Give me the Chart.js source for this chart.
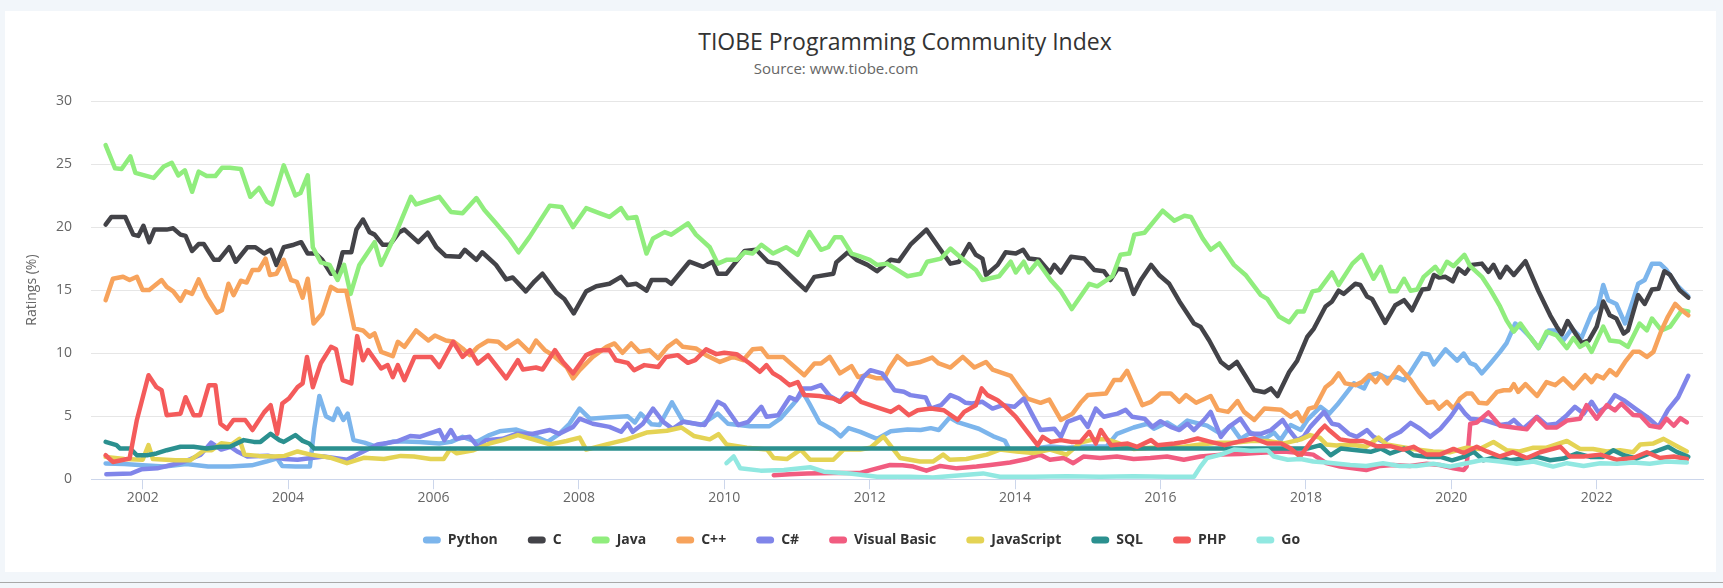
<!DOCTYPE html>
<html>
<head>
<meta charset="utf-8">
<script src="https://cdn.jsdelivr.net/npm/chart.js@4.4.0/dist/chart.umd.min.js"></script>
<style>
html,body{margin:0;padding:0;width:1723px;height:588px;overflow:hidden;background:#f2f6fa;}
#card{position:absolute;left:5px;top:11px;width:1711px;height:561px;background:#ffffff;}
#rule{position:absolute;left:0;top:582px;width:1723px;height:1px;background:#a8a8a8;}
.ttl{position:absolute;white-space:nowrap;transform:translateX(-50%);font-family:'Open Sans',sans-serif;}
#title{left:905px;top:30px;font-size:23px;line-height:23px;color:#333333;}
#subtitle{left:836px;top:61px;font-size:15px;line-height:15px;color:#666666;}
#chart{position:absolute;left:0;top:0;}
</style>
</head>
<body>
<div id="card"></div>
<div id="rule"></div>
<div id="title" class="ttl">TIOBE Programming Community Index</div>
<div id="subtitle" class="ttl">Source: www.tiobe.com</div>
<canvas id="chart" width="1723" height="588"></canvas>
<script>
// ---------------- DATA (year, rating %) ----------------
const seriesNames = ['Python','C','Java','C++','C#','Visual Basic','JavaScript','SQL','PHP','Go'];
const yearTicks = [2002,2004,2006,2008,2010,2012,2014,2016,2018,2020,2022];
const ratingTicks = [0,5,10,15,20,25,30];

const python = [[2001.49,1.25],[2001.75,1.2],[2002.0,1.1],[2002.3,1.0],[2002.6,1.2],[2002.9,1.0],[2003.2,1.0],[2003.5,1.1],[2003.7,1.4],[2003.85,1.65],[2003.92,1.05],[2004.1,1.0],[2004.3,1.0],[2004.36,4.0],[2004.43,6.6],[2004.52,5.0],[2004.62,4.7],[2004.68,5.6],[2004.76,4.7],[2004.82,5.2],[2004.9,3.1],[2005.05,2.9],[2005.2,2.6],[2005.45,3.0],[2005.6,3.0],[2005.81,2.96],[2006.08,2.83],[2006.24,2.96],[2006.4,3.36],[2006.59,2.96],[2006.77,3.5],[2006.91,3.8],[2007.14,3.94],[2007.32,3.6],[2007.57,2.96],[2007.73,3.6],[2007.87,4.4],[2008.01,5.6],[2008.15,4.8],[2008.38,4.9],[2008.67,5.0],[2008.77,4.5],[2008.85,5.2],[2009.0,4.35],[2009.11,4.3],[2009.28,6.1],[2009.43,4.6],[2009.68,4.3],[2009.91,5.2],[2010.05,4.4],[2010.35,4.2],[2010.62,4.2],[2010.77,4.8],[2010.94,5.9],[2011.08,6.9],[2011.17,6.0],[2011.31,4.5],[2011.5,3.9],[2011.6,3.4],[2011.71,4.05],[2011.87,3.75],[2012.1,3.2],[2012.29,3.8],[2012.52,3.95],[2012.7,3.9],[2012.84,4.05],[2012.95,3.9],[2013.1,4.9],[2013.22,4.5],[2013.5,4.0],[2013.7,3.4],[2013.86,3.05],[2013.92,2.35],[2014.16,2.35],[2014.48,2.6],[2014.71,2.5],[2014.99,2.6],[2015.26,2.6],[2015.4,3.6],[2015.63,4.1],[2015.82,4.4],[2015.91,4.0],[2016.09,4.5],[2016.23,4.0],[2016.37,4.65],[2016.64,4.25],[2016.83,3.6],[2016.97,4.25],[2017.1,3.2],[2017.24,3.7],[2017.43,3.2],[2017.56,3.7],[2017.65,3.1],[2017.79,4.3],[2017.93,3.9],[2018.02,4.7],[2018.2,5.74],[2018.32,5.2],[2018.43,5.9],[2018.66,7.6],[2018.8,7.2],[2018.89,8.25],[2018.98,8.4],[2019.12,8.0],[2019.25,8.1],[2019.35,7.85],[2019.44,8.5],[2019.6,9.97],[2019.69,9.9],[2019.76,9.1],[2019.92,10.3],[2020.08,9.4],[2020.17,9.97],[2020.26,9.2],[2020.33,9.05],[2020.42,8.4],[2020.54,9.2],[2020.67,10.1],[2020.76,10.8],[2020.88,12.35],[2020.97,11.95],[2021.08,11.3],[2021.2,10.4],[2021.34,11.8],[2021.45,11.8],[2021.54,11.0],[2021.66,11.95],[2021.79,11.2],[2021.93,13.15],[2022.02,13.7],[2022.09,15.4],[2022.16,14.2],[2022.27,13.9],[2022.39,12.35],[2022.5,14.2],[2022.57,15.5],[2022.66,15.8],[2022.76,17.1],[2022.87,17.1],[2022.96,16.6],[2023.1,15.4],[2023.26,14.5]];

const c = [[2001.49,20.2],[2001.57,20.8],[2001.76,20.8],[2001.87,19.4],[2001.94,19.3],[2002.01,20.1],[2002.09,18.8],[2002.16,19.8],[2002.33,19.8],[2002.42,19.9],[2002.52,19.4],[2002.59,19.3],[2002.68,18.1],[2002.77,18.65],[2002.84,18.65],[2002.98,17.4],[2003.05,17.4],[2003.19,18.4],[2003.28,17.25],[2003.44,18.4],[2003.55,18.4],[2003.67,17.9],[2003.76,18.2],[2003.84,17.0],[2003.94,18.4],[2004.08,18.6],[2004.18,18.8],[2004.27,17.9],[2004.38,17.9],[2004.47,17.4],[2004.59,16.3],[2004.68,16.4],[2004.75,18.0],[2004.87,18.0],[2004.94,19.8],[2005.03,20.6],[2005.12,19.6],[2005.19,19.4],[2005.3,18.6],[2005.4,18.6],[2005.53,19.6],[2005.6,19.8],[2005.79,18.8],[2005.92,19.55],[2006.04,18.4],[2006.17,17.7],[2006.36,17.65],[2006.43,18.2],[2006.59,17.4],[2006.67,18.0],[2006.86,17.0],[2007.0,15.85],[2007.09,16.0],[2007.27,14.9],[2007.39,15.7],[2007.5,16.3],[2007.69,14.8],[2007.8,14.3],[2007.93,13.15],[2008.1,14.9],[2008.24,15.3],[2008.42,15.5],[2008.58,16.05],[2008.67,15.4],[2008.79,15.5],[2008.93,14.95],[2009.0,15.8],[2009.2,15.8],[2009.27,15.5],[2009.52,17.25],[2009.71,16.85],[2009.84,17.25],[2009.91,16.3],[2010.03,16.3],[2010.14,17.1],[2010.28,18.1],[2010.44,18.2],[2010.6,17.25],[2010.74,17.1],[2010.99,15.7],[2011.12,15.0],[2011.24,16.05],[2011.5,16.3],[2011.54,17.2],[2011.7,18.0],[2011.82,17.4],[2011.97,17.0],[2012.1,16.5],[2012.29,17.4],[2012.4,17.3],[2012.56,18.6],[2012.78,19.8],[2012.95,18.4],[2013.11,17.1],[2013.23,17.25],[2013.37,18.65],[2013.46,17.8],[2013.55,17.5],[2013.6,16.2],[2013.76,17.0],[2013.87,18.0],[2014.01,17.9],[2014.11,18.2],[2014.19,17.5],[2014.33,17.4],[2014.48,16.4],[2014.54,17.0],[2014.63,16.4],[2014.77,17.65],[2014.95,17.5],[2015.09,16.6],[2015.22,16.5],[2015.31,15.8],[2015.41,16.7],[2015.52,16.6],[2015.63,14.7],[2015.73,15.8],[2015.87,17.0],[2015.98,16.2],[2016.12,15.5],[2016.26,14.1],[2016.46,12.35],[2016.55,12.1],[2016.67,11.0],[2016.83,9.3],[2016.94,8.8],[2017.05,9.3],[2017.29,7.05],[2017.43,6.9],[2017.52,7.2],[2017.61,6.6],[2017.77,8.5],[2017.88,9.4],[2018.02,11.3],[2018.11,11.95],[2018.27,13.7],[2018.36,14.1],[2018.45,14.95],[2018.52,14.7],[2018.68,15.5],[2018.75,15.4],[2018.84,14.5],[2018.91,14.3],[2019.09,12.4],[2019.23,13.8],[2019.35,14.2],[2019.46,13.4],[2019.6,15.05],[2019.69,15.1],[2019.76,16.2],[2019.83,16.0],[2019.92,16.05],[2020.02,15.7],[2020.1,16.7],[2020.19,16.3],[2020.28,17.0],[2020.42,17.1],[2020.51,16.45],[2020.58,17.0],[2020.67,16.0],[2020.76,16.85],[2020.86,16.2],[2021.02,17.3],[2021.2,14.9],[2021.36,13.0],[2021.45,12.1],[2021.52,11.5],[2021.6,12.55],[2021.79,10.8],[2021.89,11.0],[2022.0,12.1],[2022.09,14.1],[2022.18,13.0],[2022.27,12.75],[2022.37,11.55],[2022.43,11.8],[2022.57,14.6],[2022.66,13.9],[2022.76,15.05],[2022.85,15.1],[2022.93,16.5],[2023.01,16.2],[2023.14,15.0],[2023.26,14.4]];

const java = [[2001.49,26.5],[2001.62,24.66],[2001.71,24.6],[2001.83,25.6],[2001.9,24.3],[2002.15,23.9],[2002.29,24.8],[2002.4,25.1],[2002.49,24.1],[2002.58,24.5],[2002.68,22.8],[2002.77,24.4],[2002.88,24.05],[2003.0,24.05],[2003.09,24.7],[2003.2,24.7],[2003.35,24.6],[2003.48,22.4],[2003.6,23.1],[2003.71,22.0],[2003.78,21.8],[2003.94,24.9],[2004.1,22.5],[2004.17,22.7],[2004.27,24.1],[2004.34,18.4],[2004.45,17.2],[2004.57,17.0],[2004.68,15.8],[2004.77,17.0],[2004.86,14.7],[2004.98,17.0],[2005.19,18.8],[2005.28,17.0],[2005.46,19.2],[2005.69,22.4],[2005.76,21.8],[2006.08,22.4],[2006.24,21.2],[2006.4,21.1],[2006.59,22.3],[2006.7,21.35],[2006.86,20.3],[2007.05,19.0],[2007.17,18.0],[2007.32,19.2],[2007.6,21.7],[2007.76,21.6],[2007.92,20.0],[2008.1,21.5],[2008.28,21.1],[2008.42,20.8],[2008.58,21.5],[2008.67,20.7],[2008.79,20.8],[2008.93,17.9],[2009.02,19.1],[2009.18,19.6],[2009.27,19.4],[2009.5,20.3],[2009.61,19.4],[2009.8,18.4],[2009.91,17.1],[2010.03,17.4],[2010.17,17.4],[2010.28,18.0],[2010.39,17.9],[2010.51,18.6],[2010.67,17.9],[2010.85,18.4],[2011.01,17.8],[2011.17,19.6],[2011.33,18.2],[2011.43,18.4],[2011.52,19.2],[2011.61,19.2],[2011.75,17.9],[2011.86,17.7],[2012.0,17.4],[2012.1,17.0],[2012.24,17.1],[2012.52,16.1],[2012.7,16.3],[2012.79,17.25],[2012.98,17.5],[2013.11,18.3],[2013.32,17.25],[2013.46,16.6],[2013.55,15.8],[2013.78,16.1],[2013.94,17.25],[2014.01,16.4],[2014.12,17.25],[2014.19,16.4],[2014.31,17.25],[2014.49,15.8],[2014.63,14.9],[2014.78,13.5],[2015.02,15.5],[2015.13,15.3],[2015.34,16.1],[2015.45,17.8],[2015.57,17.9],[2015.64,19.4],[2015.78,19.55],[2016.03,21.3],[2016.19,20.5],[2016.33,20.9],[2016.42,20.8],[2016.58,19.1],[2016.69,18.2],[2016.81,18.7],[2017.01,17.0],[2017.17,16.2],[2017.38,14.6],[2017.47,14.3],[2017.63,12.9],[2017.77,12.45],[2017.88,13.3],[2017.97,13.3],[2018.09,14.9],[2018.18,15.0],[2018.36,16.4],[2018.45,15.4],[2018.64,17.1],[2018.77,17.8],[2018.93,15.9],[2019.03,16.85],[2019.16,14.9],[2019.25,14.9],[2019.35,15.9],[2019.44,14.95],[2019.53,15.05],[2019.62,16.05],[2019.78,16.85],[2019.85,16.3],[2019.94,17.25],[2020.03,16.9],[2020.18,17.8],[2020.26,16.9],[2020.42,16.05],[2020.54,15.0],[2020.67,13.7],[2020.76,12.6],[2020.86,11.7],[2020.95,12.35],[2021.08,11.3],[2021.2,10.4],[2021.31,11.7],[2021.45,11.4],[2021.59,10.4],[2021.68,11.2],[2021.77,10.5],[2021.86,10.8],[2021.93,10.1],[2022.09,12.1],[2022.18,11.0],[2022.32,10.9],[2022.43,10.5],[2022.59,12.35],[2022.69,11.8],[2022.76,12.75],[2022.89,11.8],[2023.01,12.1],[2023.17,13.4],[2023.26,13.3]];

const cpp = [[2001.49,14.2],[2001.59,15.9],[2001.73,16.06],[2001.82,15.8],[2001.92,16.06],[2002.0,15.0],[2002.09,15.0],[2002.26,15.8],[2002.33,15.26],[2002.42,14.9],[2002.52,14.15],[2002.59,14.9],[2002.68,14.7],[2002.77,15.85],[2002.88,14.47],[2003.02,13.2],[2003.09,13.4],[2003.18,15.5],[2003.25,14.6],[2003.35,15.74],[2003.43,15.6],[2003.51,16.6],[2003.6,16.6],[2003.69,17.5],[2003.75,16.2],[2003.84,16.3],[2003.94,17.4],[2004.04,15.8],[2004.12,15.66],[2004.2,14.4],[2004.27,15.9],[2004.35,12.35],[2004.47,13.15],[2004.59,15.26],[2004.68,14.95],[2004.8,14.95],[2004.91,11.96],[2005.03,11.8],[2005.12,11.3],[2005.19,11.56],[2005.28,10.1],[2005.44,9.76],[2005.51,10.9],[2005.6,10.5],[2005.76,11.8],[2005.93,11.0],[2006.02,11.4],[2006.17,11.0],[2006.28,10.9],[2006.4,10.37],[2006.5,9.84],[2006.61,10.5],[2006.75,10.98],[2006.89,10.9],[2007.0,10.37],[2007.16,11.0],[2007.32,10.1],[2007.41,11.0],[2007.53,10.24],[2007.64,9.84],[2007.83,8.9],[2007.92,8.0],[2008.01,8.65],[2008.19,9.7],[2008.38,10.5],[2008.49,10.77],[2008.6,10.03],[2008.72,10.77],[2008.83,10.1],[2008.97,10.24],[2009.09,9.58],[2009.22,10.5],[2009.34,11.0],[2009.43,10.5],[2009.61,10.37],[2009.75,9.84],[2009.94,9.3],[2010.12,9.7],[2010.26,9.44],[2010.39,10.3],[2010.51,10.37],[2010.6,9.7],[2010.81,9.7],[2010.94,9.05],[2011.1,8.25],[2011.24,9.18],[2011.33,9.18],[2011.45,9.7],[2011.59,8.4],[2011.75,8.97],[2011.84,8.1],[2011.95,8.25],[2012.1,8.0],[2012.2,8.0],[2012.27,8.8],[2012.38,9.76],[2012.52,9.1],[2012.7,9.3],[2012.86,9.65],[2012.95,9.18],[2013.11,8.86],[2013.28,9.7],[2013.44,8.86],[2013.6,9.3],[2013.69,8.7],[2013.94,8.2],[2014.08,7.06],[2014.17,6.4],[2014.35,6.06],[2014.47,6.32],[2014.63,4.7],[2014.79,5.2],[2014.9,6.06],[2015.0,6.67],[2015.25,6.8],[2015.36,7.86],[2015.45,7.86],[2015.54,8.6],[2015.61,7.7],[2015.75,5.87],[2015.87,6.14],[2016.0,6.8],[2016.14,6.8],[2016.26,6.14],[2016.35,6.67],[2016.49,6.06],[2016.69,6.6],[2016.79,5.5],[2016.93,5.34],[2017.06,6.2],[2017.15,5.34],[2017.29,4.7],[2017.43,5.6],[2017.66,5.5],[2017.79,4.95],[2017.88,5.3],[2017.95,4.6],[2018.04,5.6],[2018.13,5.74],[2018.27,7.3],[2018.36,7.7],[2018.45,8.4],[2018.54,7.6],[2018.68,7.46],[2018.77,7.7],[2018.87,8.25],[2018.96,7.7],[2019.03,8.25],[2019.12,7.6],[2019.28,8.9],[2019.44,7.86],[2019.55,6.93],[2019.67,6.06],[2019.76,6.14],[2019.83,5.6],[2019.94,6.14],[2020.03,5.6],[2020.12,6.4],[2020.21,6.8],[2020.28,6.8],[2020.38,6.06],[2020.49,6.0],[2020.63,6.93],[2020.72,7.06],[2020.81,7.06],[2020.86,7.54],[2020.92,6.93],[2021.02,7.54],[2021.18,6.6],[2021.31,7.7],[2021.43,7.46],[2021.54,8.0],[2021.68,7.2],[2021.84,8.25],[2021.93,7.7],[2022.0,8.25],[2022.09,8.0],[2022.18,8.65],[2022.27,8.25],[2022.39,9.3],[2022.5,10.1],[2022.59,10.1],[2022.69,9.7],[2022.78,10.1],[2022.89,11.8],[2022.98,12.9],[2023.08,13.9],[2023.17,13.4],[2023.26,13.0]];

const csharp = [[2001.5,0.4],[2001.84,0.45],[2001.98,0.78],[2002.2,0.86],[2002.39,1.13],[2002.53,1.32],[2002.66,1.6],[2002.8,1.95],[2002.94,2.9],[2003.08,2.35],[2003.21,2.57],[2003.3,2.2],[2003.44,1.8],[2003.72,1.86],[2003.95,1.6],[2004.13,1.54],[2004.49,1.8],[2004.81,1.54],[2004.95,1.95],[2005.23,2.76],[2005.5,3.0],[2005.68,3.43],[2005.81,3.36],[2006.08,3.9],[2006.15,3.1],[2006.24,3.9],[2006.31,3.2],[2006.5,3.36],[2006.61,2.57],[2006.72,3.1],[2006.95,3.2],[2007.14,3.6],[2007.37,3.6],[2007.6,3.9],[2007.73,3.6],[2007.92,4.15],[2008.01,4.8],[2008.19,4.4],[2008.42,4.15],[2008.58,3.76],[2008.67,4.4],[2008.74,3.76],[2008.88,4.4],[2009.02,5.6],[2009.16,4.55],[2009.29,4.0],[2009.43,4.55],[2009.61,4.4],[2009.73,4.3],[2009.91,6.14],[2010.0,5.87],[2010.19,4.3],[2010.33,4.55],[2010.51,5.74],[2010.58,4.95],[2010.74,5.08],[2010.9,6.5],[2010.99,6.27],[2011.08,7.2],[2011.2,7.2],[2011.33,7.46],[2011.45,6.6],[2011.59,6.14],[2011.68,6.8],[2011.77,6.67],[2011.91,8.1],[2012.01,8.65],[2012.17,8.4],[2012.34,7.06],[2012.47,6.93],[2012.56,6.67],[2012.77,6.48],[2012.84,5.6],[2012.98,5.87],[2013.11,6.67],[2013.23,6.4],[2013.32,6.06],[2013.41,6.0],[2013.55,6.14],[2013.69,5.6],[2013.83,5.87],[2013.99,5.74],[2014.12,6.4],[2014.24,5.08],[2014.35,3.9],[2014.54,4.0],[2014.63,3.36],[2014.72,4.55],[2014.9,4.95],[2015.0,4.15],[2015.11,5.6],[2015.22,4.95],[2015.41,5.2],[2015.52,5.5],[2015.61,4.95],[2015.78,4.8],[2015.89,4.15],[2016.0,4.6],[2016.14,4.15],[2016.26,3.9],[2016.37,4.4],[2016.46,3.9],[2016.6,4.7],[2016.69,5.34],[2016.83,3.36],[2016.94,4.15],[2017.1,4.8],[2017.24,3.6],[2017.38,3.6],[2017.52,3.9],[2017.68,4.7],[2017.77,3.9],[2017.88,3.1],[2017.97,3.36],[2018.06,4.15],[2018.25,5.34],[2018.36,4.4],[2018.45,4.3],[2018.59,3.6],[2018.7,3.36],[2018.84,3.9],[2018.93,3.36],[2019.07,2.96],[2019.16,3.36],[2019.3,3.76],[2019.44,4.47],[2019.57,4.0],[2019.71,3.36],[2019.85,4.0],[2019.99,4.95],[2020.1,5.87],[2020.19,5.2],[2020.26,4.8],[2020.44,4.7],[2020.67,4.3],[2020.79,4.4],[2020.86,4.7],[2020.99,4.0],[2021.18,4.95],[2021.31,4.3],[2021.45,4.4],[2021.59,5.08],[2021.7,5.74],[2021.82,5.2],[2021.93,6.14],[2022.02,5.34],[2022.14,5.74],[2022.25,6.67],[2022.37,6.27],[2022.53,5.6],[2022.69,4.95],[2022.85,4.15],[2022.98,5.5],[2023.12,6.5],[2023.26,8.2]];

const visualBasic = [[2010.68,0.32],[2010.9,0.4],[2011.14,0.46],[2011.5,0.5],[2011.87,0.5],[2012.1,0.86],[2012.28,1.13],[2012.45,1.1],[2012.6,1.0],[2012.78,0.68],[2012.97,1.05],[2013.2,0.86],[2013.47,1.0],[2013.66,1.13],[2013.93,1.32],[2014.16,1.6],[2014.34,1.95],[2014.48,1.54],[2014.67,1.68],[2014.8,1.27],[2014.94,1.8],[2015.17,1.68],[2015.4,1.8],[2015.63,1.6],[2015.86,1.68],[2016.09,1.8],[2016.32,1.54],[2016.55,1.8],[2016.83,1.95],[2017.1,2.0],[2017.38,2.1],[2017.7,2.2],[2017.92,2.08],[2018.1,1.95],[2018.28,1.27],[2018.47,1.0],[2018.65,0.86],[2018.83,0.73],[2019.02,1.05],[2019.2,1.13],[2019.43,1.05],[2019.66,1.22],[2019.84,1.13],[2020.03,0.86],[2020.17,0.73],[2020.21,1.0],[2020.26,4.4],[2020.35,4.5],[2020.51,5.3],[2020.67,4.24],[2020.85,4.1],[2021.04,3.97],[2021.17,4.9],[2021.31,4.1],[2021.45,4.1],[2021.59,4.65],[2021.77,4.8],[2021.86,5.87],[2022.0,4.8],[2022.14,5.87],[2022.25,5.46],[2022.34,6.0],[2022.5,5.1],[2022.6,5.05],[2022.73,4.24],[2022.87,4.1],[2022.96,4.8],[2023.06,4.24],[2023.15,4.84],[2023.24,4.5]];

const javascript = [[2001.49,1.77],[2001.75,1.6],[2002.0,1.55],[2002.08,2.7],[2002.14,1.6],[2002.45,1.5],[2002.65,1.5],[2002.75,1.9],[2002.85,2.3],[2002.95,2.3],[2003.08,2.85],[2003.22,2.75],[2003.33,3.2],[2003.4,1.95],[2003.6,1.85],[2003.8,1.8],[2003.95,1.85],[2004.13,2.2],[2004.31,1.95],[2004.59,1.7],[2004.81,1.27],[2005.04,1.7],[2005.32,1.6],[2005.55,1.85],[2005.73,1.8],[2005.96,1.6],[2006.14,1.6],[2006.23,2.4],[2006.32,2.05],[2006.55,2.3],[2006.78,2.85],[2006.95,3.1],[2007.16,3.5],[2007.37,3.16],[2007.6,2.76],[2007.83,3.03],[2008.01,3.3],[2008.1,2.35],[2008.38,2.76],[2008.66,3.16],[2008.93,3.7],[2009.21,3.84],[2009.41,4.1],[2009.58,3.43],[2009.8,3.16],[2009.92,3.57],[2010.03,2.76],[2010.31,2.5],[2010.59,2.35],[2010.68,1.68],[2010.86,1.6],[2011.05,2.35],[2011.18,1.54],[2011.5,1.54],[2011.64,2.35],[2011.87,2.35],[2012.01,2.5],[2012.19,3.38],[2012.42,1.68],[2012.69,1.4],[2012.87,1.4],[2013.01,1.95],[2013.1,1.54],[2013.33,1.6],[2013.61,1.95],[2013.79,2.35],[2014.02,2.2],[2014.25,2.08],[2014.48,2.35],[2014.71,1.95],[2014.9,2.9],[2015.08,3.16],[2015.26,3.16],[2015.4,2.9],[2015.63,2.4],[2015.86,2.5],[2016.09,2.5],[2016.32,2.57],[2016.55,2.76],[2016.78,2.9],[2017.01,2.9],[2017.24,3.03],[2017.47,3.03],[2017.7,2.84],[2017.93,3.16],[2018.06,3.5],[2018.19,3.3],[2018.28,2.76],[2018.42,2.68],[2018.61,2.76],[2018.83,2.57],[2019.0,3.3],[2019.11,2.76],[2019.29,2.57],[2019.52,2.35],[2019.75,2.2],[2019.98,2.14],[2020.21,2.5],[2020.39,2.4],[2020.58,2.95],[2020.76,2.3],[2020.94,2.2],[2021.13,2.5],[2021.31,2.5],[2021.59,3.03],[2021.77,2.4],[2021.95,2.4],[2022.14,2.2],[2022.32,2.3],[2022.5,2.14],[2022.6,2.76],[2022.78,2.84],[2022.92,3.2],[2023.06,2.76],[2023.24,2.2]];

const sql = [[2001.49,2.96],[2001.64,2.7],[2001.69,2.43],[2001.83,2.43],[2001.92,1.9],[2002.06,1.9],[2002.19,2.04],[2002.33,2.3],[2002.52,2.57],[2002.7,2.57],[2002.88,2.43],[2003.07,2.57],[2003.2,2.57],[2003.39,3.1],[2003.53,2.96],[2003.62,2.96],[2003.76,3.6],[2003.88,3.1],[2003.94,2.96],[2004.1,3.5],[2004.2,3.04],[2004.29,2.83],[2004.36,2.43],[2018.02,2.43],[2018.2,2.7],[2018.34,1.9],[2018.48,2.43],[2018.7,2.3],[2018.89,2.17],[2019.03,2.43],[2019.16,2.04],[2019.35,2.43],[2019.48,1.9],[2019.67,1.77],[2019.85,1.77],[2020.01,1.5],[2020.17,1.77],[2020.31,2.17],[2020.44,1.5],[2020.63,1.77],[2020.81,1.5],[2021.0,1.64],[2021.18,1.77],[2021.36,1.5],[2021.54,1.64],[2021.73,2.04],[2021.91,1.77],[2022.09,1.77],[2022.23,2.3],[2022.37,1.9],[2022.55,1.64],[2022.73,2.04],[2022.98,2.57],[2023.1,2.17],[2023.26,1.77]];

const php = [[2001.49,1.9],[2001.59,1.37],[2001.82,1.64],[2001.92,4.7],[2002.08,8.25],[2002.19,7.3],[2002.26,7.06],[2002.33,5.08],[2002.52,5.2],[2002.59,6.5],[2002.7,5.08],[2002.79,5.08],[2002.91,7.46],[2003.0,7.46],[2003.07,4.4],[2003.16,4.0],[2003.25,4.7],[2003.41,4.7],[2003.51,3.9],[2003.67,5.3],[2003.76,5.87],[2003.85,3.6],[2003.92,6.0],[2004.01,6.4],[2004.13,7.3],[2004.2,7.6],[2004.26,9.7],[2004.34,7.3],[2004.45,9.2],[2004.59,10.5],[2004.66,10.3],[2004.75,7.86],[2004.87,7.6],[2004.95,11.35],[2005.03,9.44],[2005.1,10.24],[2005.28,8.78],[2005.37,9.05],[2005.44,8.1],[2005.51,9.05],[2005.6,7.86],[2005.74,9.7],[2005.97,9.7],[2006.08,8.9],[2006.27,10.9],[2006.4,9.7],[2006.5,10.24],[2006.61,9.18],[2006.75,9.84],[2007.0,8.0],[2007.16,9.44],[2007.23,8.7],[2007.41,8.86],[2007.5,8.7],[2007.67,10.24],[2007.78,9.3],[2007.92,8.4],[2008.1,9.84],[2008.24,10.2],[2008.42,10.24],[2008.51,9.44],[2008.67,9.23],[2008.76,8.65],[2008.9,9.05],[2009.09,8.9],[2009.2,9.7],[2009.36,9.84],[2009.5,9.23],[2009.6,9.44],[2009.75,10.3],[2009.89,9.92],[2010.0,10.03],[2010.17,9.92],[2010.35,9.18],[2010.49,8.52],[2010.58,9.05],[2010.67,8.4],[2010.76,8.1],[2010.9,7.46],[2011.01,7.7],[2011.1,6.67],[2011.31,6.6],[2011.5,6.4],[2011.59,6.14],[2011.75,6.8],[2011.88,6.14],[2012.08,5.74],[2012.29,5.34],[2012.4,5.74],[2012.54,5.08],[2012.66,5.47],[2012.84,5.6],[2013.02,5.47],[2013.21,4.7],[2013.3,5.34],[2013.46,5.87],[2013.54,7.2],[2013.62,6.67],[2013.76,6.27],[2013.87,5.74],[2014.01,4.95],[2014.15,3.9],[2014.31,2.7],[2014.38,3.36],[2014.49,2.96],[2014.63,3.1],[2014.77,2.96],[2014.9,2.96],[2015.02,3.76],[2015.11,2.83],[2015.18,3.9],[2015.32,2.7],[2015.55,2.83],[2015.68,2.57],[2015.87,3.1],[2015.96,2.7],[2016.19,2.83],[2016.33,2.96],[2016.51,3.23],[2016.69,2.96],[2016.88,2.7],[2017.06,2.96],[2017.29,3.23],[2017.47,2.83],[2017.66,2.83],[2017.79,2.43],[2017.92,1.8],[2018.06,2.9],[2018.19,3.84],[2018.26,4.24],[2018.33,3.84],[2018.47,3.16],[2018.61,3.03],[2018.79,3.03],[2018.97,2.62],[2019.16,2.62],[2019.34,2.35],[2019.48,2.57],[2019.66,1.95],[2019.84,1.95],[2020.03,2.4],[2020.17,2.08],[2020.35,2.57],[2020.49,2.2],[2020.67,1.8],[2020.85,2.14],[2021.04,1.68],[2021.22,2.14],[2021.5,2.57],[2021.63,1.8],[2021.82,1.8],[2022.05,1.95],[2022.28,1.54],[2022.5,1.68],[2022.69,2.14],[2022.87,1.68],[2023.06,1.8],[2023.24,1.6]];

const go = [[2010.03,1.27],[2010.13,1.8],[2010.22,0.86],[2010.5,0.68],[2010.82,0.73],[2011.18,0.95],[2011.37,0.6],[2011.73,0.46],[2012.1,0.19],[2012.56,0.19],[2012.87,0.14],[2013.56,0.46],[2013.79,0.19],[2014.25,0.19],[2014.71,0.24],[2015.17,0.19],[2015.63,0.24],[2016.09,0.19],[2016.46,0.19],[2016.55,1.0],[2016.64,1.68],[2016.83,1.95],[2017.01,2.35],[2017.24,2.25],[2017.47,2.3],[2017.56,1.8],[2017.75,1.54],[2017.93,1.6],[2018.1,1.4],[2018.28,1.32],[2018.61,1.13],[2018.83,1.05],[2019.06,1.27],[2019.29,1.05],[2019.52,1.05],[2019.75,1.22],[2019.98,1.0],[2020.21,1.27],[2020.44,1.54],[2020.67,1.4],[2020.9,1.22],[2021.13,1.4],[2021.4,1.0],[2021.59,1.27],[2021.82,1.05],[2022.05,1.27],[2022.28,1.22],[2022.5,1.32],[2022.73,1.22],[2022.96,1.4],[2023.24,1.32]];

const seriesData = [python, c, java, cpp, csharp, visualBasic, javascript, sql, php, go];
// ---------------- STYLE ----------------
const seriesColors = ['#7cb5ec','#434348','#90ed7d','#f7a35c','#8085e9','#f15c80','#e4d354','#2b908f','#f45b5b','#91e8e1'];
const FONT = "'Open Sans', sans-serif";

const datasets = seriesNames.map((name, i) => ({
  label: name,
  data: seriesData[i].map(p => ({x: p[0], y: p[1]})),
  borderColor: seriesColors[i],
  backgroundColor: seriesColors[i],
  borderWidth: 4.5,
  pointRadius: 0,
  pointHoverRadius: 0,
  tension: 0,
  borderJoinStyle: 'round',
  borderCapStyle: 'round',
  order: seriesNames.length - i
}));

const legendNudge = {
  id: 'legendNudge',
  afterLayout(chart) {
    if (chart.legend) { chart.legend.top -= 3; chart.legend.bottom -= 3; }
  }
};

new Chart(document.getElementById('chart'), {
  type: 'line',
  data: { datasets },
  plugins: [legendNudge],
  options: {
    responsive: false,
    animation: false,
    devicePixelRatio: 1,
    events: [],
    layout: { padding: { left: 20, right: 20, top: 101, bottom: 28 } },
    scales: {
      x: {
        type: 'linear',
        min: 2001.289,
        max: 2023.462,
        afterBuildTicks: s => { s.ticks = yearTicks.map(v => ({ value: v })); },
        ticks: {
          autoSkip: false, maxRotation: 0, padding: 0,
          color: '#666666', font: { family: FONT, size: 14 },
          callback: v => String(v)
        },
        grid: { drawOnChartArea: false, drawTicks: true, tickLength: 10, color: '#ccd6eb', lineWidth: 1 },
        border: { display: true, color: '#ccd6eb', width: 1 }
      },
      y: {
        min: 0, max: 30,
        afterBuildTicks: s => { s.ticks = ratingTicks.map(v => ({ value: v })); },
        afterFit: s => { s.width = 71; },
        ticks: { padding: 19, color: '#666666', font: { family: FONT, size: 14 } },
        grid: { color: '#e6e6e6', lineWidth: 1, drawTicks: false },
        border: { display: false },
        title: { display: true, text: 'Ratings (%)', color: '#666666', font: { family: FONT, size: 14 }, padding: { top: 4, bottom: 4 } }
      }
    },
    plugins: {
      title: { display: false },
      tooltip: { enabled: false },
      legend: {
        display: true,
        position: 'bottom',
        labels: {
          boxWidth: 18, boxHeight: 7, useBorderRadius: true, borderRadius: 3.5,
          padding: 30, color: '#333333',
          font: { family: FONT, size: 14, weight: 'bold' },
          sort: (a, b) => a.datasetIndex - b.datasetIndex,
          generateLabels: chart => Chart.defaults.plugins.legend.labels.generateLabels(chart).map(l => {
            l.lineWidth = 0;
            l.fillStyle = seriesColors[l.datasetIndex];
            l.strokeStyle = seriesColors[l.datasetIndex];
            return l;
          })
        }
      }
    }
  }
});
</script>
</body>
</html>
